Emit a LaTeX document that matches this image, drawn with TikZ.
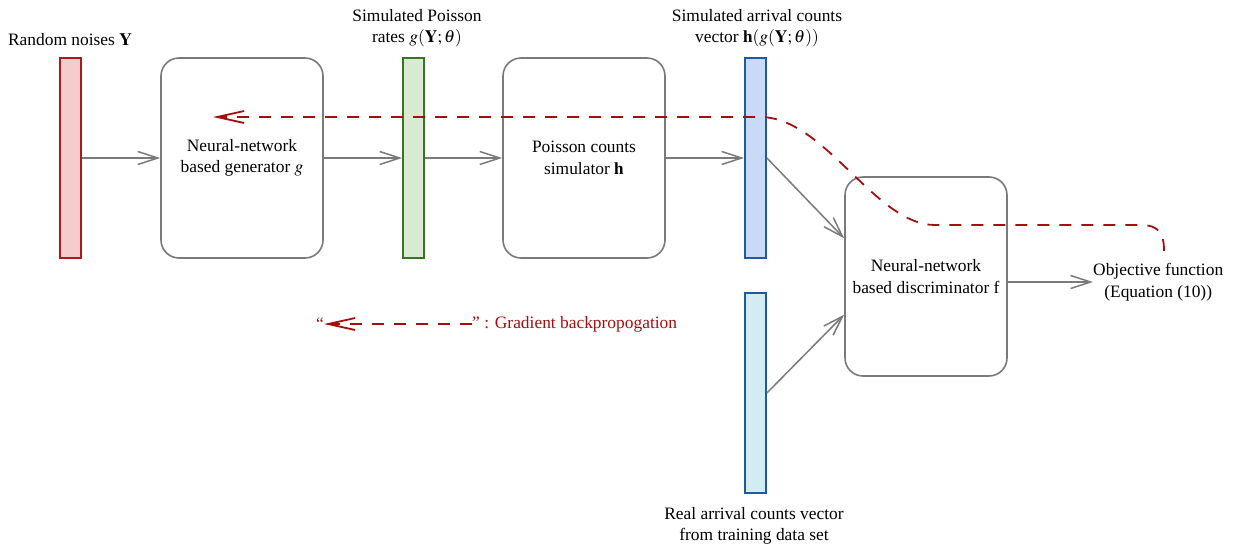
\documentclass[tikz,border=0pt]{standalone}
\usepackage{mathptmx}
\usepackage{fontspec}
\setmainfont{Liberation Serif}
\usetikzlibrary{arrows.meta}
\definecolor{lnGray}{HTML}{7A7A7A}
\definecolor{bpRed}{HTML}{A50E0E}
\definecolor{redFill}{HTML}{F4CCCC}
\definecolor{redLine}{HTML}{A61C1C}
\definecolor{greenFill}{HTML}{D9EAD3}
\definecolor{greenLine}{HTML}{38761D}
\definecolor{blueFill}{HTML}{C9DAF8}
\definecolor{blueLine}{HTML}{1F5A9E}
\definecolor{cyanFill}{HTML}{D3EBF3}
\tikzset{
  txt/.style={font=\fontsize{17.4}{21.5}\selectfont, align=center, inner sep=0pt},
  bar/.style={draw, line width=1.8pt, minimum width=21pt, minimum height=200pt, inner sep=0pt},
  rbox/.style={draw=lnGray, line width=1.6pt, rounded corners=18pt, minimum width=162pt, minimum height=200pt, inner sep=0pt, align=center, font=\fontsize{17.4}{21.5}\selectfont},
  arr/.style={draw=lnGray, line width=1.5pt, -{Straight Barb[length=20pt, width=13pt]}},
  bp/.style={draw=bpRed, line width=1.8pt, dash pattern=on 12pt off 10pt, -{Straight Barb[length=27pt, width=12pt]}}
}
\begin{document}
\begin{tikzpicture}[x=1pt,y=-1pt]
\useasboundingbox (0,0) rectangle (1234,547);
% bars
\node[bar, draw=redLine, fill=redFill] (rb) at (70.5,158) {};
\node[bar, draw=greenLine, fill=greenFill] (gb) at (413.5,158) {};
\node[bar, draw=blueLine, fill=blueFill] (bb) at (755.5,158) {};
\node[bar, draw=blueLine, fill=cyanFill] (lb) at (755.5,393) {};
% boxes
\node[rbox] (gen) at (242,158) {Neural-network\\based generator $g$};
\node[rbox] (pois) at (584,158) {Poisson counts\\simulator $\mathbf{h}$};
\node[rbox, minimum height=199pt] (disc) at (926,276.5) {Neural-network\\based discriminator f};
% labels
\node[txt] (lrb) at (70,40) {Random noises $\mathbf{Y}$};
\node[txt] (lgb) at (417,28) {Simulated Poisson\\rates $g(\mathbf{Y};\theta)$};
\node[txt] (lbb) at (757,28) {Simulated arrival counts\\vector $\mathbf{h}(g(\mathbf{Y};\theta))$};
\node[txt] (llb) at (754,526) {Real arrival counts vector\\from training data set};
\node[txt, anchor=west] (obj) at (1093,282) {Objective function\\(Equation (10))};
% arrows
\draw[arr] (rb.east) -- (gen.west);
\draw[arr] (gen.east) -- (gb.west);
\draw[arr] (gb.east) -- (pois.west);
\draw[arr] (pois.east) -- (bb.west);
\draw[arr] (bb.east) -- (disc.155);
\draw[arr] (lb.east) -- (disc.205);
\draw[arr] (disc.east |- obj.west) -- (obj.west);
% backprop path
\coordinate (bpS) at (1164,251);
\coordinate (bpE) at (213,117);
\draw[bp] (bpS) .. controls (1164,232) and (1158,225) .. (1140,225) -- (935,225)
  .. controls (875,225) and (825,117) .. (760,117) -- (bpE);
% legend
\node[txt, text=bpRed, anchor=east] (lq) at (324,324) {``};
\node[txt, text=bpRed, anchor=west] (lt) at (472,324) {'' : Gradient backpropogation};
\draw[bp] (lt.west) -- (lq.east);
\end{tikzpicture}
\end{document}
